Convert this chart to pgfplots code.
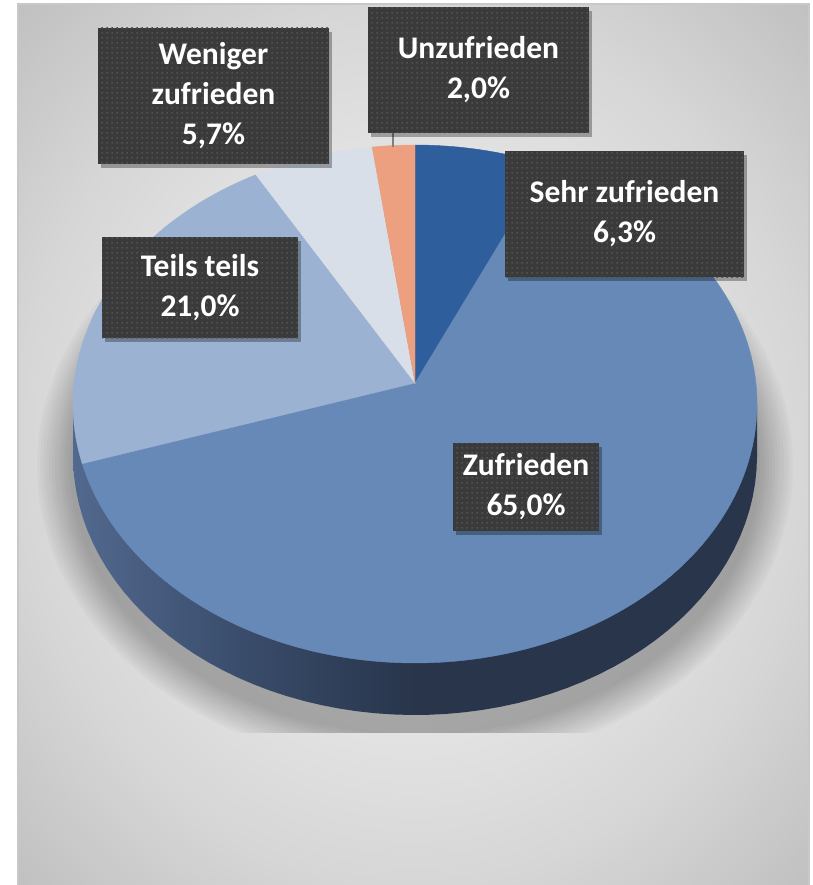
\documentclass[border=0pt]{standalone}
\usepackage{fontspec}
\setmainfont{Carlito}
\usepackage{pgfplots}
\usepackage{pgfplotstable}
\pgfplotsset{compat=1.18}
\usetikzlibrary{shadows,patterns.meta}

\definecolor{cSehr}{HTML}{2E5E9C}
\definecolor{cZuf}{HTML}{6789B7}
\definecolor{cTeils}{HTML}{9CB2D3}
\definecolor{cWen}{HTML}{D8DFE9}
\definecolor{cUnz}{HTML}{ECA080}
\definecolor{sideL}{HTML}{52698F}
\definecolor{sideM}{HTML}{3A4D6C}
\definecolor{sideD}{HTML}{28354B}
\definecolor{bgA}{HTML}{F0F0F0}
\definecolor{bgB}{HTML}{E6E6E6}
\definecolor{bgC}{HTML}{D6D6D6}
\definecolor{bgD}{HTML}{BFBFBF}
\definecolor{boxbg}{HTML}{3A3A3A}
\definecolor{boxdot}{HTML}{525252}
\definecolor{frameC}{HTML}{C8C8C8}
\definecolor{leader}{HTML}{7F7F7F}

\pgfdeclarehorizontalshading{pieside}{100bp}{color(0bp)=(sideL); color(25bp)=(sideL); color(37bp)=(sideM); color(50bp)=(sideD); color(100bp)=(sideD)}
\pgfdeclareradialshading{bgshade}{\pgfpoint{0bp}{0bp}}{color(0bp)=(bgA); color(14bp)=(bgB); color(25bp)=(bgC); color(36bp)=(bgD); color(50bp)=(bgD)}

\tikzdeclarepattern{name=boxdots, type=uncolored,
  bounding box={(0,0) and (5bp,5bp)}, tile size={(5bp,5bp)},
  code={\fill (1.5bp,1.5bp) rectangle (3.4bp,3.4bp);}}

\tikzset{lbl/.style={fill=boxbg, postaction={pattern=boxdots, pattern color=boxdot},
  text=white, font=\bfseries\fontsize{31.5bp}{40bp}\selectfont, align=center,
  inner sep=0pt, drop shadow={shadow xshift=3bp, shadow yshift=-4bp, opacity=0.3, fill=black}}}

% Zufriedenheit, Anteile in Prozent (im Uhrzeigersinn ab 12 Uhr)
\pgfplotstableread{
idx value
0 6.3
1 65.0
2 21.0
3 5.7
4 2.0
}\piedata
\pgfplotstablegetelem{0}{value}\of\piedata \let\vA\pgfplotsretval
\pgfplotstablegetelem{1}{value}\of\piedata \let\vB\pgfplotsretval
\pgfplotstablegetelem{2}{value}\of\piedata \let\vC\pgfplotsretval
\pgfplotstablegetelem{3}{value}\of\piedata \let\vD\pgfplotsretval
\pgfplotstablegetelem{4}{value}\of\piedata \let\vE\pgfplotsretval
\pgfmathsetmacro\aO{90}
\pgfmathsetmacro\aA{\aO-3.6*\vA}
\pgfmathsetmacro\aB{\aA-3.6*\vB}
\pgfmathsetmacro\aC{\aB-3.6*\vC}
\pgfmathsetmacro\aD{\aC-3.6*\vD}
\pgfmathsetmacro\aE{\aD-3.6*\vE}

\begin{document}
\begin{tikzpicture}
\begin{axis}[scale only axis, width=813bp, height=885bp,
  xmin=0, xmax=813, ymin=0, ymax=885, y dir=reverse,
  hide axis, clip=false]
  % background
  \path[shading=bgshade] (axis cs:18,4) rectangle (axis cs:809,885);
  \draw[frameC, line width=1.2bp] (axis cs:18,885) -- (axis cs:18,4) -- (axis cs:809,4) -- (axis cs:809,885);
  % soft shadow of the pie
  \begin{scope}
    \clip (axis cs:18,4) rectangle (axis cs:809,732);
    \pgfplotsinvokeforeach{36,33,30,27,24,21,18,15,12,9,6,3}{
      \fill[black, opacity=0.022] (axis cs:415,466) ellipse [x radius={342bp+#1bp}, y radius={266bp+#1bp}];
    }
  \end{scope}
  % side of the pie
  \addplot[draw=none, shading=pieside, domain=0:360, samples=120, variable=\t]
    ({415+342*cos(\t)}, {456-259*sin(\t)}) -- cycle;
  \addplot[draw=none, shading=pieside] coordinates {(73,404) (757,404) (757,456) (73,456)} -- cycle;
  % top face slices
  \addplot[fill=cSehr, draw=cSehr, line width=0.4bp, domain=\aA:\aO, samples=30, variable=\t]
    ({415+342*cos(\t)}, {404-259*sin(\t)}) -- (axis cs:415,383) -- cycle;
  \addplot[fill=cZuf, draw=cZuf, line width=0.4bp, domain=\aB:\aA, samples=150, variable=\t]
    ({415+342*cos(\t)}, {404-259*sin(\t)}) -- (axis cs:415,383) -- cycle;
  \addplot[fill=cTeils, draw=cTeils, line width=0.4bp, domain=\aC:\aB, samples=60, variable=\t]
    ({415+342*cos(\t)}, {404-259*sin(\t)}) -- (axis cs:415,383) -- cycle;
  \addplot[fill=cWen, draw=cWen, line width=0.4bp, domain=\aD:\aC, samples=30, variable=\t]
    ({415+342*cos(\t)}, {404-259*sin(\t)}) -- (axis cs:415,383) -- cycle;
  \addplot[fill=cUnz, draw=cUnz, line width=0.4bp, domain=\aE:\aD, samples=20, variable=\t]
    ({415+342*cos(\t)}, {404-259*sin(\t)}) -- (axis cs:415,383) -- cycle;
  % leader line
  \draw[leader, line width=1.2bp] (axis cs:393,133) -- (axis cs:393,147);
  % labels
  \node[lbl, minimum width=221bp, minimum height=126bp] at (axis cs:478.5,70) {Unzufrieden\\2,0\%};
  \node[lbl, minimum width=231bp, minimum height=136bp] at (axis cs:213.5,96) {Weniger\\zufrieden\\5,7\%};
  \node[lbl, minimum width=196bp, minimum height=101bp] at (axis cs:200,287.5) {Teils teils\\21,0\%};
  \node[lbl, minimum width=239bp, minimum height=126bp] at (axis cs:624.5,214) {Sehr zufrieden\\6,3\%};
  \node[lbl, minimum width=146bp, minimum height=88bp] at (axis cs:526,487) {Zufrieden\\65,0\%};
\end{axis}
\pgfresetboundingbox
\path (0,0) rectangle (813bp,885bp);
\end{tikzpicture}
\end{document}
